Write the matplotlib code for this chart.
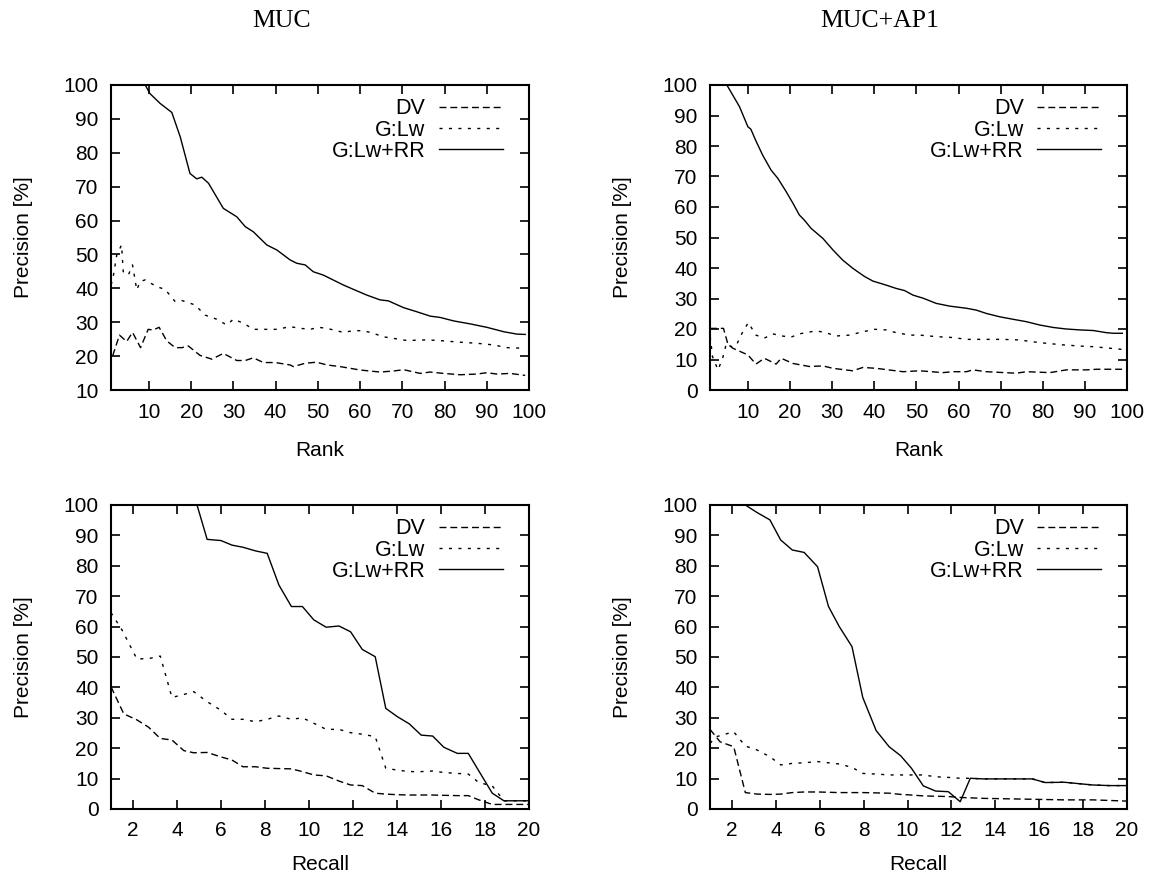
import matplotlib
matplotlib.use("Agg")
import matplotlib.pyplot as plt

# ---- MUC, precision vs. rank ----
muc_rank_dv_x = [1.4, 3.0, 4.7, 6.1, 8.0, 9.8, 11.0, 12.4, 14.2, 16.2, 17.8, 19.3, 22.1, 24.9, 27.6,
                 30.8, 32.8, 34.7, 37.1, 39.9, 43.4, 44.2, 47.0, 49.7, 52.1, 55.3, 60.0, 64.7, 67.9,
                 70.3, 74.2, 76.6, 79.7, 83.7, 87.6, 90.0, 92.4, 95.5, 99.1]
muc_rank_dv_y = [20.1, 26.2, 24.3, 27.0, 22.5, 27.9, 27.7, 28.5, 24.5, 22.5, 22.5, 23.0, 20.2, 19.1, 20.8,
                 18.7, 18.7, 19.5, 18.1, 18.1, 17.4, 16.9, 17.9, 18.2, 17.4, 16.9, 15.9, 15.3, 15.6,
                 16.0, 14.9, 15.3, 14.9, 14.5, 14.7, 15.1, 14.7, 14.9, 14.3]
muc_rank_lw_x = [1.0, 1.4, 2.35, 3.5, 3.9, 5.1, 6.1, 7.1, 7.9, 9.1, 11.8, 13.8, 16.2, 17.8, 20.9, 23.3,
                 26.0, 28.4, 30.0, 32.4, 34.7, 37.1, 40.3, 43.4, 45.8, 48.2, 50.1, 52.1, 56.0, 58.4,
                 60.8, 63.2, 65.5, 71.1, 75.8, 79.7, 83.7, 87.6, 91.6, 94.8, 99.1]
muc_rank_lw_y = [41.0, 42.5, 49.8, 52.8, 44.9, 43.9, 46.9, 39.5, 42.0, 42.5, 40.5, 39.7, 36.1, 36.4, 35.1,
                 32.1, 30.9, 29.2, 30.9, 29.7, 27.9, 27.9, 27.9, 28.7, 28.2, 27.9, 28.5, 28.2, 27.0,
                 27.5, 27.5, 26.7, 25.7, 24.6, 24.8, 24.5, 24.1, 23.8, 23.3, 22.5, 22.3]
muc_rank_rr_x = [1, 9.1, 10.2, 12.6, 15.4, 17.4, 19.7, 21.3, 22.5, 24.1, 27.6, 30.8, 32.8, 34.7, 37.9,
                 40.3, 43.4, 45.0, 47.0, 48.9, 51.3, 56.0, 58.4, 61.6, 64.7, 66.7, 70.3, 73.4, 76.6,
                 79.0, 82.1, 86.1, 90.0, 94.0, 97.1, 99.1]
muc_rank_rr_y = [100, 100, 97.5, 94.6, 91.9, 84.7, 73.9, 72.3, 72.8, 71.0, 63.6, 61.1, 58.2, 56.7, 52.8,
                 51.3, 48.4, 47.4, 46.9, 44.9, 43.9, 41.0, 39.7, 38.0, 36.6, 36.3, 34.3, 33.1, 31.8,
                 31.4, 30.4, 29.5, 28.5, 27.2, 26.5, 26.4]

# ---- MUC+AP1, precision vs. rank ----
ap1_rank_dv_x = [1.0, 4.2, 5.2, 6.4, 10.0, 11.9, 13.9, 16.7, 17.9, 20.7, 24.6, 27.8, 30.2, 34.9, 37.3,
                 40.5, 46.8, 50.8, 56.3, 58.7, 61.9, 63.4, 66.6, 73.7, 76.1, 81.7, 85.6, 90.4, 92.8, 98.9]
ap1_rank_dv_y = [20.2, 20.2, 15.3, 13.7, 11.5, 8.5, 10.4, 8.5, 10.4, 8.7, 7.7, 7.9, 7.1, 6.3, 7.4,
                 7.1, 6.0, 6.3, 5.7, 6.0, 6.0, 6.6, 6.0, 5.5, 6.0, 5.7, 6.6, 6.6, 6.8, 6.8]
ap1_rank_lw_x = [1.05, 1.6, 2.9, 4.0, 4.9, 6.0, 7.3, 8.6, 10.1, 11.9, 13.9, 15.9, 18.2, 20.2, 22.2, 26.2,
                 28.5, 30.9, 34.1, 37.3, 40.1, 42.8, 45.2, 48.4, 50.8, 54.7, 58.7, 61.9, 66.6, 70.6,
                 74.5, 77.7, 80.9, 84.8, 88.8, 92.0, 95.9, 98.9]
ap1_rank_lw_y = [17.5, 10.9, 6.6, 10.4, 15.3, 14.2, 14.8, 18.6, 22.1, 18.0, 17.0, 18.4, 17.7, 17.3, 18.4,
                 19.4, 18.8, 17.7, 18.0, 19.1, 19.9, 19.7, 18.8, 18.0, 18.0, 17.5, 17.2, 16.6, 16.6,
                 16.6, 16.4, 15.8, 15.3, 14.8, 14.4, 14.2, 13.7, 13.3]
ap1_rank_rr_x = [1, 5.0, 6.4, 8.0, 10.0, 10.7, 11.9, 13.5, 15.5, 17.1, 19.1, 20.7, 22.2, 23.4, 25.0, 27.8,
                 30.2, 32.5, 34.9, 37.7, 39.7, 42.8, 45.2, 47.2, 49.2, 51.6, 54.7, 57.9, 61.9, 64.2,
                 66.6, 69.8, 72.9, 76.1, 79.3, 82.5, 85.6, 88.8, 92.0, 95.1, 96.7, 98.9]
ap1_rank_rr_y = [100, 100, 96.7, 92.9, 86.3, 85.5, 81.7, 77.0, 72.1, 69.4, 65.0, 61.2, 57.4, 55.7, 53.0,
                 49.7, 45.9, 42.6, 39.9, 37.2, 35.7, 34.4, 33.3, 32.6, 31.1, 30.1, 28.4, 27.5, 26.8,
                 26.2, 25.1, 24.0, 23.2, 22.4, 21.3, 20.5, 20.0, 19.7, 19.5, 18.8, 18.6, 18.6]

# ---- MUC, precision vs. recall ----
muc_rec_dv_x = [1.0, 1.58, 2.18, 2.71, 3.24, 3.77, 4.31, 4.76, 5.37, 5.97, 6.5, 7.0, 7.57, 8.1, 8.63,
                9.2, 9.7, 10.22, 10.78, 11.36, 11.89, 12.42, 13.01, 13.49, 14.01, 14.56, 15.62, 16.13,
                16.74, 17.24, 17.72, 18.33, 20.0]
muc_rec_dv_y = [40.2, 31.3, 29.3, 26.9, 23.2, 22.7, 19.2, 18.5, 18.6, 17.2, 16.1, 13.9, 13.9, 13.4, 13.3,
                13.2, 12.3, 11.2, 10.9, 9.2, 7.9, 7.7, 5.2, 4.9, 4.7, 4.6, 4.6, 4.5,
                4.4, 4.4, 3.0, 1.5, 1.5]
muc_rec_lw_x = [1.0, 1.5, 2.18, 2.79, 3.24, 3.77, 4.23, 4.76, 5.37, 5.97, 6.5, 7.0, 7.57, 8.1, 8.63, 9.2,
                9.7, 10.22, 10.78, 11.36, 11.89, 12.42, 13.01, 13.49, 14.01, 14.56, 15.1, 15.62, 16.13,
                16.74, 17.24, 17.72, 18.33, 18.86, 20.0]
muc_rec_lw_y = [64.6, 58.9, 49.3, 49.6, 50.3, 36.7, 37.5, 38.6, 35.3, 32.6, 29.5, 29.5, 28.7, 29.5, 30.6,
                29.5, 30.0, 28.2, 26.2, 26.2, 25.1, 24.6, 23.8, 13.4, 12.8, 12.3, 12.3, 12.5, 12.0,
                11.7, 11.5, 8.7, 7.6, 2.7, 2.7]
muc_rec_rr_x = [1.0, 4.91, 5.37, 6.0, 6.5, 7.0, 7.57, 8.1, 8.63, 9.2, 9.7, 10.22, 10.78, 11.36, 11.89,
                12.42, 13.01, 13.49, 14.01, 14.56, 15.1, 15.62, 16.13, 16.74, 17.24, 17.72, 18.33,
                18.86, 20.0]
muc_rec_rr_y = [100, 100, 88.7, 88.3, 86.8, 86.1, 84.9, 84.1, 73.7, 66.6, 66.6, 62.2, 59.8, 60.2, 58.3,
                52.5, 50.1, 33.1, 30.4, 28.0, 24.3, 24.0, 20.3, 18.3, 18.3, 12.5, 5.2,
                2.7, 2.7]

# ---- MUC+AP1, precision vs. recall ----
ap1_rec_dv_x = [1.0, 1.46, 2.08, 2.61, 3.15, 3.73, 4.22, 4.75, 5.29, 5.9, 6.89, 7.96, 9.16, 9.69, 10.18,
                10.72, 11.86, 12.4, 13.44, 15.69, 17.14, 18.44, 20.0]
ap1_rec_dv_y = [26.2, 22.1, 20.5, 5.4, 4.9, 4.8, 4.9, 5.4, 5.6, 5.6, 5.4, 5.4, 5.2, 4.8, 4.6,
                4.3, 4.1, 3.8, 3.5, 3.2, 3.0, 3.0, 2.6]
ap1_rec_lw_x = [1.0, 1.3, 2.08, 2.61, 3.15, 3.73, 4.22, 4.75, 5.29, 5.9, 6.4, 6.89, 7.47, 7.96, 8.57,
                9.16, 9.69, 10.18, 10.72, 11.28, 11.86, 12.4, 12.86, 13.44, 15.69, 16.27, 17.14,
                18.44, 19.2, 20.0]
ap1_rec_lw_y = [21.6, 23.8, 25.4, 20.7, 19.4, 17.2, 14.5, 15.0, 15.2, 15.6, 15.2, 14.8, 13.7, 11.7, 11.5,
                11.2, 11.2, 11.2, 11.2, 10.6, 10.4, 10.1, 10.1, 9.9, 9.9, 8.7, 8.8,
                7.9, 7.7, 7.7]
ap1_rec_rr_x = [1.0, 2.61, 3.15, 3.73, 4.22, 4.75, 5.29, 5.9, 6.4, 6.89, 7.47, 7.96, 8.57, 9.16, 9.69,
                10.18, 10.72, 11.28, 11.86, 12.4, 12.86, 13.44, 15.69, 16.27, 17.14, 18.44, 19.2, 20.0]
ap1_rec_rr_y = [100, 100, 97.5, 95.1, 88.5, 85.2, 84.4, 79.7, 66.6, 60.0, 53.4, 36.7, 25.8, 20.5, 17.5,
                13.4, 7.6, 5.9, 5.7, 2.4, 10.1, 9.9, 9.9, 8.7, 8.8, 7.9, 7.7, 7.7]

labels = ["DV", "G:Lw", "G:Lw+RR"]
titles = ["MUC", "MUC+AP1"]

plt.rcParams['font.family'] = ['Liberation Sans', 'DejaVu Sans']
W, H = 1151, 874
fig = plt.figure(figsize=(W / 100, H / 100), dpi=100)


def add_panel(l, t, r, b):
    return fig.add_axes([l / W, 1 - b / H, (r - l) / W, (b - t) / H])


def draw(ax, dv, lw, rr, xlim, ylim, xticks, xlabel, xlab_y):
    ax.plot(dv[0], dv[1], color='black', lw=1.0, dashes=(5, 2.8), label=labels[0])
    ax.plot(lw[0], lw[1], color='black', lw=1.0, dashes=(2.2, 4.6), label=labels[1])
    ax.plot(rr[0], rr[1], color='black', lw=1.0, label=labels[2])
    ax.set_xlim(*xlim)
    ax.set_ylim(*ylim)
    ax.set_xticks(xticks)
    ax.set_yticks(range(ylim[0], 101, 10))
    ax.tick_params(direction='in', top=True, right=True, length=6.5, width=1.2,
                   labelsize=15, pad=9)
    for s in ax.spines.values():
        s.set_linewidth(1.5)
    ax.set_xlabel(xlabel, fontsize=15, va='center')
    ax.xaxis.set_label_coords(0.5, xlab_y)
    ax.set_ylabel("Precision [%]", fontsize=15, va='center')
    ax.yaxis.set_label_coords(-0.21, 0.5)
    ax.legend(loc='upper right', bbox_to_anchor=(0.938, 0.957), markerfirst=False,
              frameon=False, fontsize=15.5, handlelength=3.0, handletextpad=0.6,
              labelspacing=0.02, borderpad=0, borderaxespad=0)


rank_ticks = list(range(10, 101, 10))
recall_ticks = list(range(2, 21, 2))

ax = add_panel(111, 85, 529, 390)
draw(ax, (muc_rank_dv_x, muc_rank_dv_y), (muc_rank_lw_x, muc_rank_lw_y),
     (muc_rank_rr_x, muc_rank_rr_y), (1, 100), (10, 100), rank_ticks, "Rank", -0.197)

ax = add_panel(710, 85, 1127, 390)
draw(ax, (ap1_rank_dv_x, ap1_rank_dv_y), (ap1_rank_lw_x, ap1_rank_lw_y),
     (ap1_rank_rr_x, ap1_rank_rr_y), (1, 100), (0, 100), rank_ticks, "Rank", -0.197)

ax = add_panel(111, 505, 529, 809)
draw(ax, (muc_rec_dv_x, muc_rec_dv_y), (muc_rec_lw_x, muc_rec_lw_y),
     (muc_rec_rr_x, muc_rec_rr_y), (1, 20), (0, 100), recall_ticks, "Recall", -0.184)

ax = add_panel(710, 505, 1127, 809)
draw(ax, (ap1_rec_dv_x, ap1_rec_dv_y), (ap1_rec_lw_x, ap1_rec_lw_y),
     (ap1_rec_rr_x, ap1_rec_rr_y), (1, 20), (0, 100), recall_ticks, "Recall", -0.184)

fig.text(282 / W, 1 - 21 / H, titles[0], ha='center', va='center', fontsize=18.5,
         family='Liberation Serif')
fig.text(880 / W, 1 - 21 / H, titles[1], ha='center', va='center', fontsize=18.5,
         family='Liberation Serif')

fig.savefig("out.png", dpi=100)
